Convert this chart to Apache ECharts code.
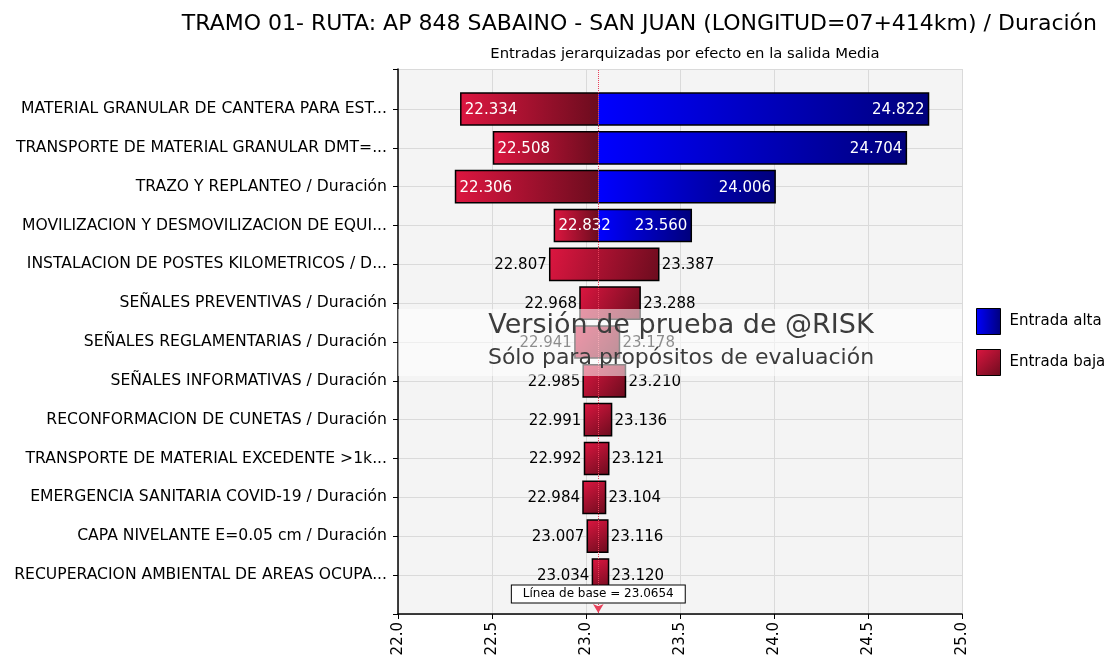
<!DOCTYPE html>
<html>
<head>
  <meta charset="utf-8">
  <title>Tornado @RISK</title>
  <script src="https://cdn.jsdelivr.net/npm/echarts@6/dist/echarts.min.js"></script>
</head>
<body style="margin:0">
<div id="main" style="width:1110px;height:664px;"></div>
<script type="text/javascript">
  // datos
  var categories = [
    'MATERIAL GRANULAR DE CANTERA PARA EST...',
    'TRANSPORTE DE MATERIAL GRANULAR DMT=...',
    'TRAZO Y REPLANTEO / Duración',
    'MOVILIZACION Y DESMOVILIZACION DE EQUI...',
    'INSTALACION DE POSTES KILOMETRICOS / D...',
    'SEÑALES PREVENTIVAS / Duración',
    'SEÑALES REGLAMENTARIAS / Duración',
    'SEÑALES INFORMATIVAS / Duración',
    'RECONFORMACION DE CUNETAS / Duración',
    'TRANSPORTE DE MATERIAL EXCEDENTE >1k...',
    'EMERGENCIA SANITARIA COVID-19 / Duración',
    'CAPA NIVELANTE E=0.05 cm / Duración',
    'RECUPERACION AMBIENTAL DE AREAS OCUPA...'
  ];
  var lowValues  = [22.334, 22.508, 22.306, 22.832, 22.807, 22.968, 22.941, 22.985, 22.991, 22.992, 22.984, 23.007, 23.034];
  var highValues = [24.822, 24.704, 24.006, 23.560, 23.387, 23.288, 23.178, 23.210, 23.136, 23.121, 23.104, 23.116, 23.120];
  // 1 = barra partida en la linea de base (rojo / azul)
  var splitRows  = [1, 1, 1, 1, 0, 0, 0, 0, 0, 0, 0, 0, 0];
  var baseValue = 23.0654;
  var xMin = 22.0, xMax = 25.0, xStep = 0.5;

  var FONT = 'DejaVu Sans';

  var redH = new echarts.graphic.LinearGradient(0, 0, 1, 0, [
    {offset: 0, color: '#dc1640'}, {offset: 1, color: '#6c0c1e'}]);
  var redD = new echarts.graphic.LinearGradient(0, 0, 1, 1, [
    {offset: 0, color: '#dc1640'}, {offset: 1, color: '#6c0c1e'}]);
  var blueH = new echarts.graphic.LinearGradient(0, 0, 1, 0, [
    {offset: 0, color: '#0000ff'}, {offset: 1, color: '#00007c'}]);

  var rows = categories.map(function (c, i) {
    return [i, lowValues[i], highValues[i], splitRows[i]];
  });

  var BAR = 0.83;

  function renderLow(params, api) {
    var i = api.value(0), lo = api.value(1), hi = api.value(2), sp = api.value(3);
    var p0 = api.coord([lo, i]);
    var p1 = api.coord([sp ? baseValue : hi, i]);
    var h = api.size([0, 1])[1] * BAR;
    return {
      type: 'rect',
      shape: {x: p0[0], y: p0[1] - h / 2, width: p1[0] - p0[0], height: h},
      style: {fill: sp ? redH : redD}
    };
  }

  function renderHigh(params, api) {
    var i = api.value(0), hi = api.value(2), sp = api.value(3);
    if (!sp) return null;
    var p0 = api.coord([baseValue, i]);
    var p1 = api.coord([hi, i]);
    var h = api.size([0, 1])[1] * BAR;
    return {
      type: 'rect',
      shape: {x: p0[0], y: p0[1] - h / 2, width: p1[0] - p0[0], height: h},
      style: {fill: blueH}
    };
  }

  function renderFrame(params, api) {
    var i = api.value(0), lo = api.value(1), hi = api.value(2), sp = api.value(3);
    var p0 = api.coord([lo, i]);
    var p1 = api.coord([hi, i]);
    var h = api.size([0, 1])[1] * BAR;
    var col = sp ? '#ffffff' : '#000000';
    return {
      type: 'group',
      children: [
        {
          type: 'rect',
          shape: {x: p0[0], y: p0[1] - h / 2, width: p1[0] - p0[0], height: h},
          style: {fill: 'none', stroke: '#000', lineWidth: 1.5}
        },
        {
          type: 'text',
          style: {
            text: lo.toFixed(3), x: sp ? p0[0] + 4 : p0[0] - 3, y: p0[1] + 1,
            align: sp ? 'left' : 'right', verticalAlign: 'middle',
            fill: col, font: '15px "' + FONT + '"'
          }
        },
        {
          type: 'text',
          style: {
            text: hi.toFixed(3), x: sp ? p1[0] - 4 : p1[0] + 3, y: p1[1] + 1,
            align: sp ? 'right' : 'left', verticalAlign: 'middle',
            fill: col, font: '15px "' + FONT + '"'
          }
        }
      ]
    };
  }

  var myChart = echarts.init(document.getElementById('main'));

  var option = {
    backgroundColor: '#ffffff',
    textStyle: {fontFamily: FONT},
    animation: false,
    title: [
      {
        text: 'TRAMO 01- RUTA: AP 848 SABAINO - SAN JUAN (LONGITUD=07+414km) / Duración',
        right: 8, top: 8,
        textStyle: {fontSize: 22, fontWeight: 'normal', color: '#000', fontFamily: FONT}
      },
      {
        text: 'Entradas jerarquizadas por efecto en la salida Media',
        left: 680, top: 42, textAlign: 'center',
        textStyle: {fontSize: 14.8, fontWeight: 'normal', color: '#000', fontFamily: FONT}
      }
    ],
    legend: {
      data: ['Entrada alta', 'Entrada baja'],
      orient: 'vertical',
      left: 971, top: 303,
      icon: 'rect',
      itemWidth: 24, itemHeight: 26, itemGap: 14,
      itemStyle: {borderColor: '#000', borderWidth: 1},
      textStyle: {fontSize: 15, color: '#000', fontFamily: FONT, padding: [0, 0, 0, 4]}
    },
    grid: [
      {left: 398, top: 69, width: 564, height: 545, show: true,
       backgroundColor: '#f4f4f4', borderWidth: 0},
      {left: 398, top: 109, width: 564, height: 466}
    ],
    xAxis: [
      {
        gridIndex: 0, type: 'value', min: xMin, max: xMax, interval: xStep,
        axisLine: {show: true, lineStyle: {color: '#000', width: 1.5}},
        axisTick: {show: true, length: 5, lineStyle: {color: '#000'}},
        axisLabel: {rotate: 90, fontSize: 15, color: '#000', margin: 8,
          formatter: function (v) { return v.toFixed(1); }},
        splitLine: {show: true, lineStyle: {color: '#dadada'}}
      },
      {
        gridIndex: 1, type: 'value', min: xMin, max: xMax, show: false
      }
    ],
    yAxis: [
      {
        gridIndex: 0, type: 'value', min: 0, max: 545, interval: 545,
        axisLine: {show: true, lineStyle: {color: '#000', width: 1.5}},
        axisTick: {show: true, length: 5, lineStyle: {color: '#000'}},
        axisLabel: {show: false},
        splitLine: {show: true, lineStyle: {color: '#dadada'}}
      },
      {
        gridIndex: 1, type: 'category', data: categories, inverse: true,
        boundaryGap: false,
        axisLine: {show: false},
        axisTick: {show: true, length: 5, lineStyle: {color: '#000'}},
        axisLabel: {fontSize: 15.6, color: '#000', margin: 11},
        splitLine: {show: true, lineStyle: {color: '#dadada'}}
      }
    ],
    series: [
      {
        name: 'base', type: 'line', xAxisIndex: 0, yAxisIndex: 0, data: [],
        silent: true,
        markLine: {
          silent: true,
          symbol: ['arrow', 'none'], symbolSize: [8, 9],
          label: {show: false},
          lineStyle: {color: '#e8405a', type: 'dotted', width: 1},
          itemStyle: {color: '#e8506a', borderColor: '#400', borderWidth: 1},
          data: [[{coord: [baseValue, 1]}, {coord: [baseValue, 545]}]]
        },
        markPoint: {
          silent: true,
          symbol: 'rect', symbolSize: 0,
          label: {
            show: true, position: 'inside',
            formatter: 'Línea de base = ' + baseValue,
            fontSize: 12, color: '#000', fontFamily: FONT,
            backgroundColor: '#fff', borderColor: '#000', borderWidth: 1,
            padding: [3, 11, 2, 11]
          },
          data: [{coord: [baseValue, 20]}]
        },
        z: 1
      },
      {
        name: 'Entrada baja', type: 'custom', xAxisIndex: 1, yAxisIndex: 1,
        renderItem: renderLow, data: rows,
        itemStyle: {color: redD}, z: 3
      },
      {
        name: 'Entrada alta', type: 'custom', xAxisIndex: 1, yAxisIndex: 1,
        renderItem: renderHigh, data: rows,
        itemStyle: {color: blueH}, z: 3
      },
      {
        name: 'marco', type: 'custom', xAxisIndex: 1, yAxisIndex: 1,
        renderItem: renderFrame, data: rows, silent: true, z: 4
      }
    ],
    graphic: [
      {
        type: 'rect', z: 100, silent: true,
        shape: {x: 398, y: 309, width: 564, height: 67},
        style: {fill: 'rgba(255,255,255,0.55)'}
      },
      {
        type: 'text', z: 101, silent: true, x: 681, y: 326,
        style: {text: 'Versión de prueba de @RISK', align: 'center', verticalAlign: 'middle',
          font: '27px "' + FONT + '"', fill: '#3c3c3c'}
      },
      {
        type: 'text', z: 101, silent: true, x: 681, y: 358,
        style: {text: 'Sólo para propósitos de evaluación', align: 'center', verticalAlign: 'middle',
          font: '22px "' + FONT + '"', fill: '#3c3c3c'}
      }
    ]
  };

  myChart.setOption(option);
</script>
</body>
</html>
